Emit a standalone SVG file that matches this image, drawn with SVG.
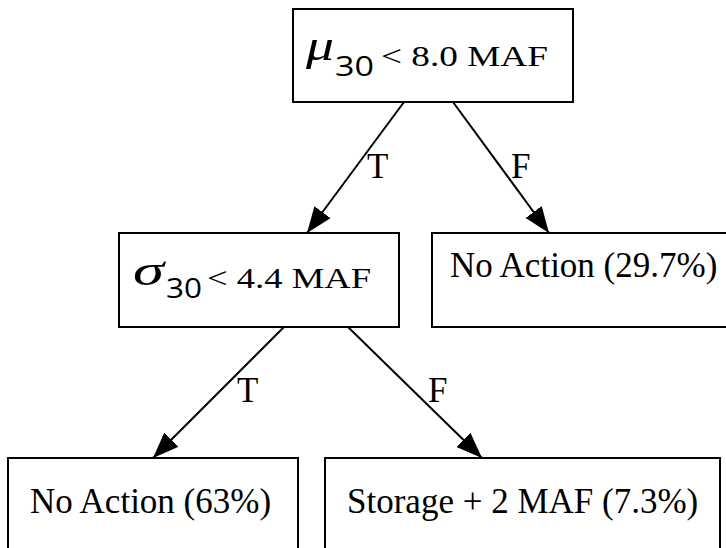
<svg xmlns="http://www.w3.org/2000/svg" width="726" height="548" viewBox="0 0 726 548">
<style>
.box{fill:#fff;stroke:#000;stroke-width:2}
.t{font-family:'Liberation Serif','DejaVu Serif',serif;font-size:35px;fill:#000}
.m{font-family:'Liberation Serif','DejaVu Serif',serif;font-style:italic;font-size:44px;fill:#000}
.s{font-family:'Open Sans','Liberation Sans',sans-serif;font-size:27px;fill:#000}
.r{font-family:'Liberation Serif','DejaVu Serif',serif;font-size:30px;fill:#000}
.e{stroke:#000;stroke-width:2;fill:none;marker-end:url(#arr)}
</style>
<defs>
<marker id="arr" viewBox="0 0 26 20" refX="26" refY="10" markerWidth="26" markerHeight="20" markerUnits="userSpaceOnUse" orient="auto">
<path d="M0,0 L26,10 L0,20 z" fill="#000"/>
</marker>
</defs>
<rect width="726" height="548" fill="#fff"/>
<g id="connectors">
<line class="e" x1="404" y1="102" x2="307" y2="233"/>
<line class="e" x1="453" y1="102" x2="549" y2="233"/>
<line class="e" x1="284" y1="327" x2="153" y2="458"/>
<line class="e" x1="348" y1="327" x2="482" y2="458"/>
<text class="t" x="367" y="178">T</text>
<text class="t" x="511" y="178">F</text>
<text class="t" x="237" y="402">T</text>
<text class="t" x="428" y="402">F</text>
</g>
<g id="root">
<rect class="box" x="293" y="9" width="280" height="93"/>
<text class="m" x="306" y="60" textLength="28" lengthAdjust="spacingAndGlyphs">μ</text>
<text class="s" x="335" y="76" textLength="39" lengthAdjust="spacingAndGlyphs">30</text>
<text class="r" x="381" y="66" textLength="167" lengthAdjust="spacingAndGlyphs">&lt; 8.0 MAF</text>
</g>
<g id="sigma">
<rect class="box" x="119" y="233" width="280" height="94"/>
<text class="m" x="133" y="285" textLength="31" lengthAdjust="spacingAndGlyphs">σ</text>
<text class="s" x="166" y="298" textLength="36" lengthAdjust="spacingAndGlyphs">30</text>
<text class="r" x="207" y="288" textLength="164" lengthAdjust="spacingAndGlyphs">&lt; 4.4 MAF</text>
</g>
<g id="noaction1">
<rect class="box" x="432" y="233" width="300" height="94"/>
<text class="t" x="450" y="277">No Action (29.7%)</text>
</g>
<g id="noaction2">
<rect class="box" x="8" y="458" width="290" height="100"/>
<text class="t" x="30" y="513">No Action (63%)</text>
</g>
<g id="storage">
<rect class="box" x="325" y="458" width="395" height="100"/>
<text class="t" x="347" y="513">Storage + 2 MAF (7.3%)</text>
</g>
</svg>
